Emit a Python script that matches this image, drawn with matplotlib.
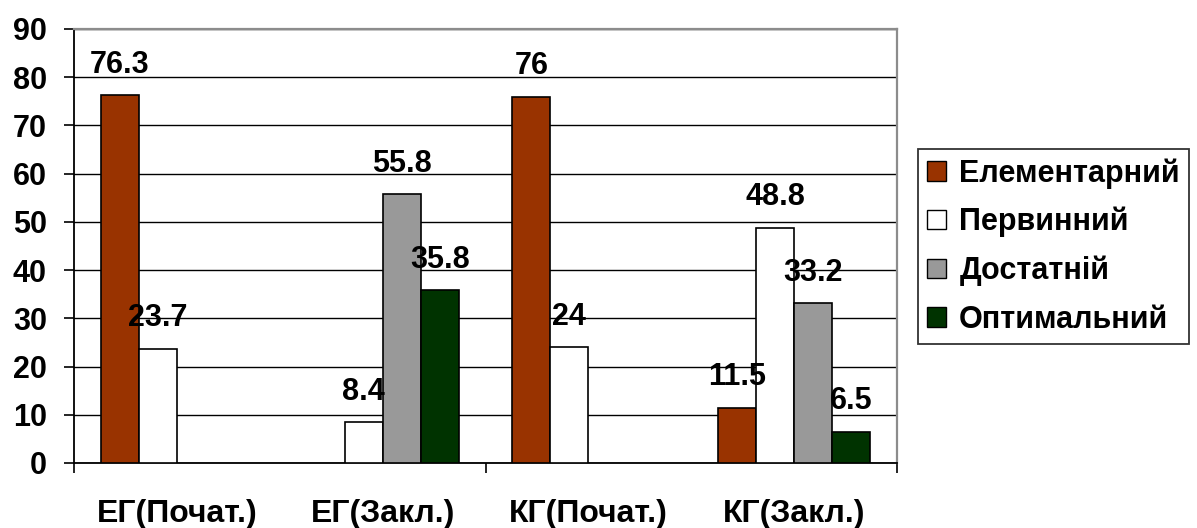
import numpy as np
import matplotlib
matplotlib.use("Agg")
import matplotlib.pyplot as plt
from matplotlib.patches import Patch

plt.rcParams['font.family'] = ['Liberation Sans', 'DejaVu Sans']
plt.rcParams['font.weight'] = 'bold'

categories = ["ЕГ(Почат.)", "ЕГ(Закл.)", "КГ(Почат.)", "КГ(Закл.)"]
series_names = ["Елементарний", "Первинний", "Достатній", "Оптимальний"]
elementary = [76.3, 0, 76, 11.5]
primary = [23.7, 8.4, 24, 48.8]
sufficient = [0, 55.8, 0, 33.2]
optimal = [0, 35.8, 0, 6.5]
colors = ["#993300", "#ffffff", "#999999", "#003300"]
y_ticks = [0, 10, 20, 30, 40, 50, 60, 70, 80, 90]

series = [elementary, primary, sufficient, optimal]

fig = plt.figure(figsize=(11.97, 5.28), dpi=100)
ax = fig.add_axes([74 / 1197, 65 / 528, (897 - 74) / 1197, (463 - 29) / 528])

x = np.arange(len(categories))
width = 0.185
offsets = (np.arange(len(series)) - 1.5) * width

for vals, off, col in zip(series, offsets, colors):
    vals = np.asarray(vals, dtype=float)
    mask = vals > 0
    ax.bar(x[mask] + off, vals[mask], width=width, color=col,
           edgecolor="black", linewidth=1.2, zorder=3)
    for xi, v in zip(x[mask] + off, vals[mask]):
        ax.annotate(f"{v:g}", xy=(xi, v), xytext=(0, 16),
                    textcoords="offset points", ha="center", va="baseline",
                    fontsize=22, fontweight="bold", zorder=5)

ax.set_xlim(-0.5, len(categories) - 0.5)
ax.set_ylim(0, 90)
ax.set_yticks(y_ticks)
ax.yaxis.grid(True, color="black", linewidth=1.0, zorder=0)
ax.set_axisbelow(True)

ax.tick_params(axis="y", direction="out", length=7.5, width=1.2,
               labelsize=22, pad=12)
for lbl in ax.get_yticklabels():
    lbl.set_fontweight("bold")

ax.set_xticks(x)
ax.set_xticklabels(categories, fontsize=23, fontweight="bold")
ax.tick_params(axis="x", which="major", length=0, pad=26)
ax.set_xticks([-0.5, 1.5, 3.5], minor=True)
ax.tick_params(axis="x", which="minor", direction="out", length=7.5, width=1.2)

for side in ["left", "bottom"]:
    ax.spines[side].set_color("black")
    ax.spines[side].set_linewidth(1.3)
for side in ["top", "right"]:
    ax.spines[side].set_color("#8c8c8c")
    ax.spines[side].set_linewidth(1.6)

handles = [Patch(facecolor=c, edgecolor="black", linewidth=1.0) for c in colors]
leg = fig.legend(handles, series_names, loc="upper left",
                 bbox_to_anchor=(918 / 1197, 1 - 149 / 528),
                 frameon=True, fancybox=False, edgecolor="black",
                 prop={"size": 22, "weight": "bold"},
                 handlelength=0.6, handleheight=0.6, handletextpad=0.45,
                 labelspacing=0.6, borderpad=0.3, borderaxespad=0)
leg.get_frame().set_linewidth(1.3)

fig.savefig("out.png", dpi=100)
